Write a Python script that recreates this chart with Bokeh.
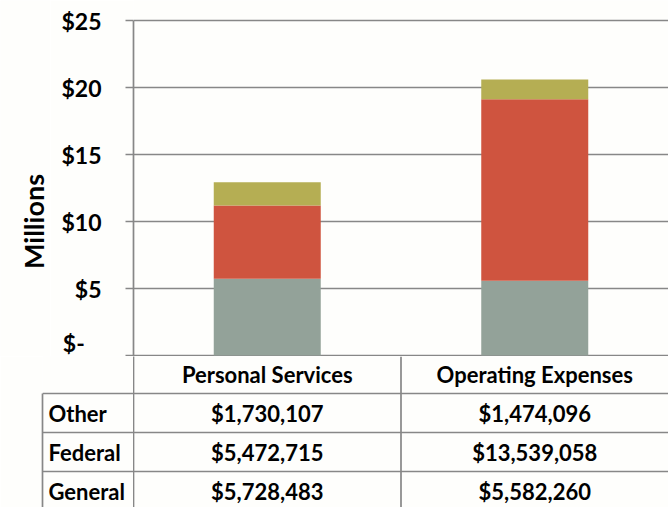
from bokeh.plotting import figure
from bokeh.models import (Range1d, FactorRange, FixedTicker, LinearAxis, Grid,
                          ColumnDataSource)
from bokeh.layouts import column, row
from bokeh.transform import dodge
from bokeh.core.properties import value
from bokeh.embed import file_html
from bokeh.resources import INLINE

# ---------------- data ----------------
categories = ["Personal Services", "Operating Expenses"]
series = ["General", "Federal", "Other"]          # stacking order, bottom to top
general = [5728483, 5582260]
federal = [5472715, 13539058]
other = [1730107, 1474096]
colors = ["#93A299", "#CF543F", "#B5AE53"]
y_ticks = [0, 5, 10, 15, 20, 25]
y_tick_labels = ["$-\u00a0\u00a0\u00a0", "$5", "$10", "$15", "$20", "$25"]
table_rows = ["Other", "Federal", "General"]      # table order, top to bottom
y_axis_title = "Millions"

# ---------------- style ----------------
BG = "#FEFEFC"
LINE = "#878787"
LW = 1.7
FONT_NAME = "Lato"
FONT = value(FONT_NAME)
TBL_FS = "22px"

values = {"General": general, "Federal": federal, "Other": other}


def hide_auto_grids(fig):
    for g in list(fig.grid):
        g.visible = False


def base_fig(**kw):
    f = figure(output_backend="svg", toolbar_location=None,
               x_axis_location=None, y_axis_location=None,
               min_border_right=0, min_border_top=0, min_border_bottom=0,
               background_fill_color=BG, border_fill_color=BG,
               outline_line_color=None, **kw)
    hide_auto_grids(f)
    return f


W, H = 668, 507
TITLE_W = 50          # column holding the rotated y-axis title
LEFT = 133            # left edge of the plot area
TABLE_LEFT = 42       # left edge of the data table
chart_h = 356
tbl_h = H - chart_h

# ---------------- chart ----------------
x_range = FactorRange(factors=categories)
px_per_unit = 13.4
y_end = 25 + 20 / px_per_unit
y_start = -1 / px_per_unit
chart_y = Range1d(y_start, y_end)

p = base_fig(width=W - TITLE_W, height=chart_h, x_range=x_range,
             y_range=chart_y, min_border_left=LEFT - TITLE_W)

yaxis = LinearAxis(ticker=FixedTicker(ticks=y_ticks), bounds=(y_start, 25),
                   major_label_overrides={t: l for t, l in zip(y_ticks, y_tick_labels)},
                   axis_line_color=LINE, axis_line_width=LW,
                   major_tick_line_color=LINE, major_tick_line_width=LW,
                   major_tick_out=8, major_tick_in=0,
                   minor_tick_out=0, minor_tick_in=0,
                   major_label_standoff=24,
                   major_label_text_font=FONT_NAME,
                   major_label_text_font_style="bold",
                   major_label_text_font_size="23px",
                   major_label_text_color="black")
p.add_layout(yaxis, "left")
p.add_layout(Grid(dimension=1, ticker=FixedTicker(ticks=y_ticks),
                  grid_line_color=LINE, grid_line_width=LW))

src = ColumnDataSource(dict(cat=categories,
                            **{s: [v / 1e6 for v in values[s]] for s in series}))
p.vbar_stack(series, x="cat", width=0.4, color=colors, line_color=None,
             source=src)

# ---------------- y-axis title column ----------------
f_title = base_fig(width=TITLE_W, height=chart_h, x_range=Range1d(0, 1),
                   y_range=chart_y, min_border_left=0)
f_title.text(x=[0.5], y=[10], text=[y_axis_title], x_offset=8,
             angle=90, angle_units="deg",
             text_align="center", text_baseline="middle",
             text_font=FONT, text_font_style="bold", text_font_size="27px",
             text_color="black")

# ---------------- table ----------------
n_rows = len(table_rows)
row_px = 39
header_idx = n_rows
tbl_y_end = (n_rows - 0.5) + 37 / row_px
tbl_y_start = tbl_y_end - tbl_h / row_px
tbl_y = Range1d(tbl_y_start, tbl_y_end)
boundaries = [i + 0.5 for i in range(n_rows)]


def blank_axis(bounds):
    return LinearAxis(ticker=FixedTicker(ticks=[]), bounds=bounds,
                      axis_line_color=LINE, axis_line_width=LW,
                      major_tick_out=0, major_tick_in=0,
                      minor_tick_out=0, minor_tick_in=0,
                      major_label_standoff=0, axis_label=None)


# row labels
fl = base_fig(width=LEFT, height=tbl_h, x_range=Range1d(0, 1),
              y_range=tbl_y, min_border_left=TABLE_LEFT)
fl.add_layout(blank_axis((tbl_y_start, n_rows - 0.5)), "left")
fl.add_layout(Grid(dimension=1, ticker=FixedTicker(ticks=boundaries),
                   grid_line_color=LINE, grid_line_width=LW))
row_idx = [n_rows - 1 - i for i in range(n_rows)]
fl.text(x=[0] * n_rows, y=row_idx, text=table_rows, x_offset=6,
        text_align="left", text_baseline="middle",
        text_font=FONT, text_font_style="bold", text_font_size=TBL_FS,
        text_color="black")

# values
ft = base_fig(width=W - LEFT, height=tbl_h, x_range=x_range, y_range=tbl_y,
              min_border_left=0)
ft.add_layout(blank_axis((tbl_y_start, tbl_y_end)), "left")
ft.add_layout(Grid(dimension=1, ticker=FixedTicker(ticks=boundaries),
                   grid_line_color=LINE, grid_line_width=LW))
sep = ColumnDataSource(dict(cat=categories[1:],
                            y0=[tbl_y_start] * (len(categories) - 1),
                            y1=[tbl_y_end] * (len(categories) - 1)))
ft.segment(x0=dodge("cat", -0.5, range=x_range), x1=dodge("cat", -0.5, range=x_range),
           y0="y0", y1="y1", line_color=LINE, line_width=LW, source=sep)

# header
ft.text(x=categories, y=[header_idx] * len(categories), text=categories,
        text_align="center", text_baseline="middle",
        text_font=FONT, text_font_style="bold", text_font_size=TBL_FS,
        text_color="black")
cell_x, cell_y, cell_t = [], [], []
for i, r in enumerate(table_rows):
    for c, v in zip(categories, values[r]):
        cell_x.append(c)
        cell_y.append(row_idx[i])
        cell_t.append(f"${v:,}")
ft.text(x=cell_x, y=cell_y, text=cell_t,
        text_align="center", text_baseline="middle",
        text_font=FONT, text_font_style="bold", text_font_size=TBL_FS,
        text_color="black")

layout = column(row(f_title, p, spacing=0), row(fl, ft, spacing=0), spacing=0)

open("out.html", "w").write(file_html(layout, INLINE))
